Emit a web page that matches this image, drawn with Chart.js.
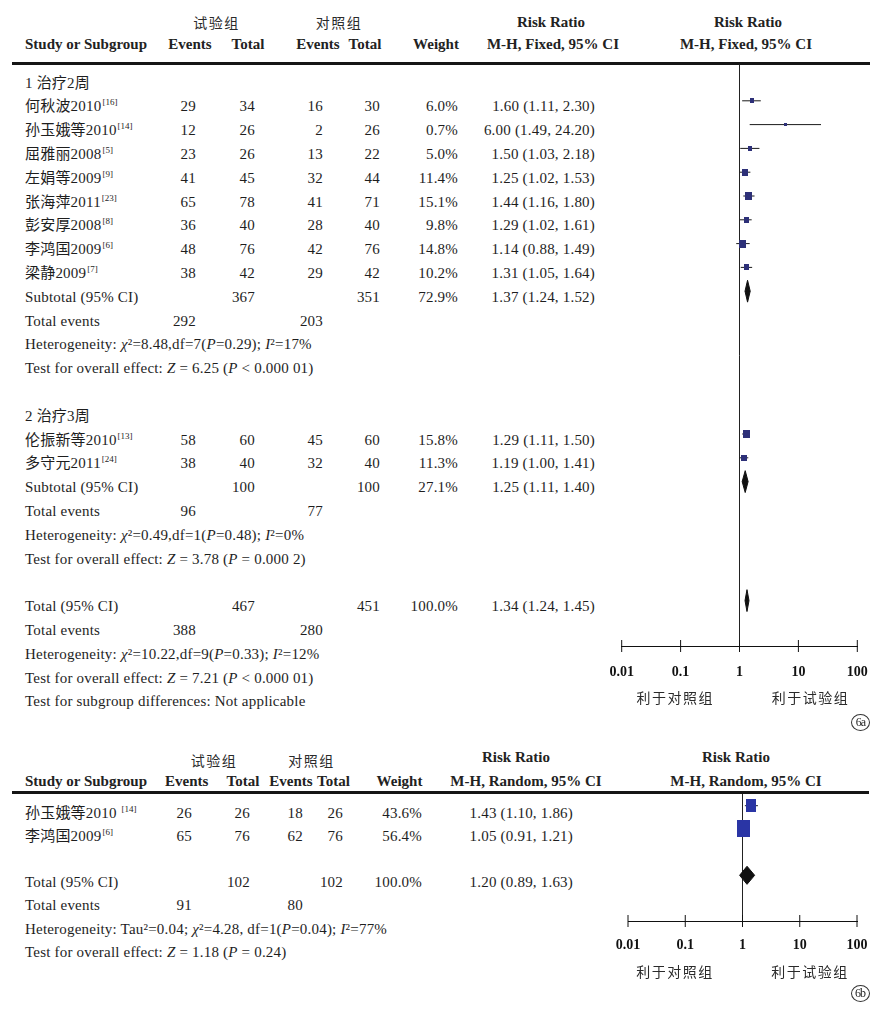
<!DOCTYPE html>
<html><head><meta charset="utf-8">
<script src="https://cdn.jsdelivr.net/npm/chart.js@4.4.1/dist/chart.umd.min.js"></script>
<style>
html,body{margin:0;padding:0;background:#fff;}
#page{position:relative;width:895px;height:1009px;overflow:hidden;background:#fff;}
.t{position:absolute;white-space:nowrap;line-height:20px;height:20px;font-family:'Liberation Serif','Noto Sans CJK SC',serif;font-size:15px;letter-spacing:0.2px;color:#1e1e1e;}
.b{font-weight:bold;color:#222;letter-spacing:0;}
.cjk{font-family:'Noto Sans CJK SC',sans-serif;font-size:14px;letter-spacing:1.5px;padding-left:1.5px;color:#2a2a2a;}
.ref{font-size:9px;position:relative;top:-6px;margin-left:1px;letter-spacing:0;}
.rule{position:absolute;height:3px;background:#151515;}
.circ{position:absolute;width:17px;height:15px;border:1px solid #333;border-radius:50%;font-family:'Liberation Serif',serif;font-size:12px;line-height:15px;text-align:center;letter-spacing:-1px;color:#222;}
canvas{position:absolute;}
</style></head>
<body><div id="page"></div>
<script>
// ================= DATA =================
// Axis
const tickVals = [0.01, 0.1, 1, 10, 100];
const tickLabels = ['0.01', '0.1', '1', '10', '100'];
const favourLabels = ['利于对照组', '利于试验组'];
const groupHeaders = ['试验组', '对照组'];

// Figure 6a, subgroup 1
const groupNameA1 = '1 治疗2周';
const studiesA1 = ['何秋波2010', '孙玉娥等2010', '屈雅丽2008', '左娟等2009', '张海萍2011', '彭安厚2008', '李鸿国2009', '梁静2009'];
const refsA1 = ['16', '14', '5', '9', '23', '8', '6', '7'];
const expEventsA1 = [29, 12, 23, 41, 65, 36, 48, 38];
const expTotalA1 = [34, 26, 26, 45, 78, 40, 76, 42];
const ctlEventsA1 = [16, 2, 13, 32, 41, 28, 42, 29];
const ctlTotalA1 = [30, 26, 22, 44, 71, 40, 76, 42];
const weightA1 = [6.0, 0.7, 5.0, 11.4, 15.1, 9.8, 14.8, 10.2];
const rrA1 = [1.60, 6.00, 1.50, 1.25, 1.44, 1.29, 1.14, 1.31];
const loA1 = [1.11, 1.49, 1.03, 1.02, 1.16, 1.02, 0.88, 1.05];
const hiA1 = [2.30, 24.20, 2.18, 1.53, 1.80, 1.61, 1.49, 1.64];
const subTotalsA1 = [367, 351];
const subWeightA1 = 72.9;
const subRRA1 = [1.37, 1.24, 1.52];
const totalEventsA1 = [292, 203];
const statsA1 = ['Heterogeneity: <i>χ</i>²=8.48,df=7(<i>P</i>=0.29); <i>I</i>²=17%',
                 'Test for overall effect: <i>Z</i> = 6.25 (<i>P</i> &lt; 0.000 01)'];

// Figure 6a, subgroup 2
const groupNameA2 = '2 治疗3周';
const studiesA2 = ['伦振新等2010', '多守元2011'];
const refsA2 = ['13', '24'];
const expEventsA2 = [58, 38];
const expTotalA2 = [60, 40];
const ctlEventsA2 = [45, 32];
const ctlTotalA2 = [60, 40];
const weightA2 = [15.8, 11.3];
const rrA2 = [1.29, 1.19];
const loA2 = [1.11, 1.00];
const hiA2 = [1.50, 1.41];
const subTotalsA2 = [100, 100];
const subWeightA2 = 27.1;
const subRRA2 = [1.25, 1.11, 1.40];
const totalEventsA2 = [96, 77];
const statsA2 = ['Heterogeneity: <i>χ</i>²=0.49,df=1(<i>P</i>=0.48); <i>I</i>²=0%',
                 'Test for overall effect: <i>Z</i> = 3.78 (<i>P</i> = 0.000 2)'];

// Figure 6a, overall
const totalsA = [467, 451];
const totalWeightA = 100.0;
const totalRRA = [1.34, 1.24, 1.45];
const totalEventsA = [388, 280];
const statsA = ['Heterogeneity: <i>χ</i>²=10.22,df=9(<i>P</i>=0.33); <i>I</i>²=12%',
                'Test for overall effect: <i>Z</i> = 7.21 (<i>P</i> &lt; 0.000 01)',
                'Test for subgroup differences: Not applicable'];

// Figure 6b
const studiesB = ['孙玉娥等2010', '李鸿国2009'];
const refsB = ['14', '6'];
const refGapB = [' ', ''];
const expEventsB = [26, 65];
const expTotalB = [26, 76];
const ctlEventsB = [18, 62];
const ctlTotalB = [26, 76];
const weightB = [43.6, 56.4];
const rrB = [1.43, 1.05];
const loB = [1.10, 0.91];
const hiB = [1.86, 1.21];
const totalsB = [102, 102];
const totalWeightB = 100.0;
const totalRRB = [1.20, 0.89, 1.63];
const totalEventsB = [91, 80];
const statsB = ['Heterogeneity: Tau²=0.04; <i>χ</i>²=4.28, df=1(<i>P</i>=0.04); <i>I</i>²=77%',
                'Test for overall effect: <i>Z</i> = 1.18 (<i>P</i> = 0.24)'];

// ================= LAYOUT HELPERS =================
const page = document.getElementById('page');
const LH = 20;
function put(html, x, y, align, cls) {
  const d = document.createElement('div');
  d.className = 't' + (cls ? ' ' + cls : '');
  d.innerHTML = html;
  d.style.top = (y - LH / 2) + 'px';
  if (align === 'right') { d.style.left = (x - 500) + 'px'; d.style.width = '500px'; d.style.textAlign = 'right'; }
  else if (align === 'center') { d.style.left = (x - 250) + 'px'; d.style.width = '500px'; d.style.textAlign = 'center'; }
  else d.style.left = x + 'px';
  page.appendChild(d);
}
function rule(x1, x2, yc) {
  const d = document.createElement('div');
  d.className = 'rule';
  d.style.left = x1 + 'px'; d.style.width = (x2 - x1) + 'px'; d.style.top = (yc - 1.5) + 'px';
  page.appendChild(d);
}
function circ(txt, cx, cy) {
  const d = document.createElement('div');
  d.className = 'circ'; d.textContent = txt;
  d.style.left = (cx - 9.5) + 'px'; d.style.top = (cy - 8.5) + 'px';
  page.appendChild(d);
}
const f2 = v => v.toFixed(2);
const rrText = (e, l, h) => `${f2(e)} (${f2(l)}, ${f2(h)})`;
const wText = w => w.toFixed(1) + '%';

function rectImg(w, h, color) {
  const c = document.createElement('canvas');
  c.width = w; c.height = h;
  const g = c.getContext('2d');
  g.fillStyle = color; g.fillRect(0, 0, w, h);
  return c;
}

// table writer
function makeTable(T) {
  const ty = r => T.textBase + T.step * r;
  const sq = [], dia = [];
  function study(r, name, ref, ee, et, ce, ct, w, rr, lo, hi, gap) {
    put(name + (gap || '') + '<span class="ref">[' + ref + ']</span>', T.nameX, ty(r));
    put(String(ee), T.cols.ee, ty(r), 'right');
    put(String(et), T.cols.et, ty(r), 'right');
    put(String(ce), T.cols.ce, ty(r), 'right');
    put(String(ct), T.cols.ct, ty(r), 'right');
    put(wText(w), T.cols.w, ty(r), 'right');
    put(rrText(rr, lo, hi), T.cols.rr, ty(r), 'right');
    sq.push({row: r, rr, lo, hi, w});
  }
  function summary(r, label, totals, w, rrArr) {
    put(label, T.nameX, ty(r));
    put(String(totals[0]), T.cols.et, ty(r), 'right');
    put(String(totals[1]), T.cols.ct, ty(r), 'right');
    put(wText(w), T.cols.w, ty(r), 'right');
    put(rrText(rrArr[0], rrArr[1], rrArr[2]), T.cols.rr, ty(r), 'right');
    dia.push({row: r, est: rrArr[0], lo: rrArr[1], hi: rrArr[2]});
  }
  function events(r, ev) {
    put('Total events', T.nameX, ty(r));
    put(String(ev[0]), T.cols.ee, ty(r), 'right');
    put(String(ev[1]), T.cols.ce, ty(r), 'right');
  }
  function line(r, html) { put(html, T.nameX, ty(r)); }
  return {study, summary, events, line, sq, dia};
}

// forest chart
function makeForest(o) {
  const cv = document.createElement('canvas');
  cv.width = o.cw; cv.height = o.ch;
  cv.style.left = o.cx + 'px'; cv.style.top = o.cy + 'px';
  page.appendChild(cv);
  const yMin = (o.area.top - o.markBase) / o.step;
  const yMax = (o.area.bottom - o.markBase) / o.step;
  const imgs = o.sq.map(s => {
    const w = Math.max(3, Math.round(o.sqW(s.w)));
    const h = Math.max(3, Math.round(o.sqH(s.w)));
    return rectImg(w, h, o.color);
  });
  const ds = [];
  o.sq.forEach(s => ds.push({type: 'line', order: 2, data: [{x: s.lo, y: s.row}, {x: s.hi, y: s.row}],
    borderColor: '#1a1a1a', borderWidth: 1, pointRadius: 0, fill: false, clip: false}));
  ds.push({type: 'line', order: 0, showLine: false, data: o.sq.map(s => ({x: s.rr, y: s.row})),
    pointStyle: ctx => imgs[ctx.dataIndex], pointRadius: 3, clip: false});
  o.dia.forEach(d => ds.push({type: 'line', order: 0,
    data: [{x: d.lo, y: d.row}, {x: d.est, y: d.row - o.dh}, {x: d.hi, y: d.row}, {x: d.est, y: d.row + o.dh}, {x: d.lo, y: d.row}],
    borderColor: '#111', backgroundColor: '#111', borderWidth: 1, pointRadius: 0, fill: 'shape', tension: 0, clip: false}));
  ds.push({type: 'line', order: 1, showLine: false, data: tickVals.map(v => ({x: v, y: yMax})),
    pointStyle: 'line', pointRotation: 90, pointRadius: 6, pointBorderColor: '#111', pointBorderWidth: 1, clip: false});
  const pad = {left: o.area.left - o.cx, right: o.cx + o.cw - o.area.right, top: o.area.top - o.cy, bottom: 20};
  const chart = new Chart(cv, {
    type: 'line',
    data: {datasets: ds},
    options: {
      responsive: false, maintainAspectRatio: false, animation: false, events: [],
      layout: {padding: pad},
      plugins: {legend: {display: false}, tooltip: {enabled: false}, title: {display: false}},
      scales: {
        x: {
          type: 'logarithmic', min: tickVals[0], max: tickVals[tickVals.length - 1],
          afterBuildTicks: ax => { ax.ticks = tickVals.map(v => ({value: v})); },
          ticks: {callback: (v, i) => tickLabels[i], autoSkip: false, maxRotation: 0, padding: o.tickPad,
            font: {family: 'Liberation Serif', size: 14, weight: 'bold'}, color: '#111'},
          grid: {drawTicks: false, lineWidth: 1,
            color: c => (c.tick && c.tick.value === 1) ? '#222' : 'rgba(0,0,0,0)'},
          border: {display: true, color: '#111', width: 1}
        },
        y: {type: 'linear', reverse: true, min: yMin, max: yMax, display: false}
      }
    }
  });
  // fine-fit the plotting area onto the target rectangle
  const ca = chart.chartArea;
  const np = {
    top: pad.top + (o.area.top - o.cy) - ca.top,
    bottom: pad.bottom + ca.bottom - (o.area.bottom - o.cy),
    left: pad.left + (o.area.left - o.cx) - ca.left,
    right: pad.right + ca.right - (o.area.right - o.cx)
  };
  chart.config.options.layout.padding = np;
  chart.update('none');
  return chart;
}

Chart.defaults.font.family = 'Liberation Serif';

// ================= FIGURE 6a =================
(function () {
  const hy1 = 21.7, hy2 = 44.3;
  put(groupHeaders[0], 215, hy1, 'center', 'cjk');
  put(groupHeaders[1], 337.5, hy1, 'center', 'cjk');
  put('Risk Ratio', 551, hy1, 'center', 'b');
  put('Risk Ratio', 748, hy1, 'center', 'b');
  put('Study or Subgroup', 25, hy2, 'left', 'b');
  put('Events', 190, hy2, 'center', 'b');
  put('Total', 248, hy2, 'center', 'b');
  put('Events', 318, hy2, 'center', 'b');
  put('Total', 365, hy2, 'center', 'b');
  put('Weight', 436, hy2, 'center', 'b');
  put('M-H, Fixed, 95% CI', 553, hy2, 'center', 'b');
  put('M-H, Fixed, 95% CI', 746, hy2, 'center', 'b');
  rule(12, 870, 63.3);

  const T = makeTable({textBase: 82.5, step: 23.8, nameX: 25,
    cols: {ee: 196, et: 255, ce: 323, ct: 380, w: 458, rr: 595}});
  let r = 0;
  T.line(r++, groupNameA1);
  studiesA1.forEach((s, i) => T.study(r++, s, refsA1[i], expEventsA1[i], expTotalA1[i], ctlEventsA1[i], ctlTotalA1[i], weightA1[i], rrA1[i], loA1[i], hiA1[i]));
  T.summary(r++, 'Subtotal (95% CI)', subTotalsA1, subWeightA1, subRRA1);
  T.events(r++, totalEventsA1);
  statsA1.forEach(s => T.line(r++, s));
  r++;
  T.line(r++, groupNameA2);
  studiesA2.forEach((s, i) => T.study(r++, s, refsA2[i], expEventsA2[i], expTotalA2[i], ctlEventsA2[i], ctlTotalA2[i], weightA2[i], rrA2[i], loA2[i], hiA2[i]));
  T.summary(r++, 'Subtotal (95% CI)', subTotalsA2, subWeightA2, subRRA2);
  T.events(r++, totalEventsA2);
  statsA2.forEach(s => T.line(r++, s));
  r++;
  T.summary(r++, 'Total (95% CI)', totalsA, totalWeightA, totalRRA);
  T.events(r++, totalEventsA);
  statsA.forEach(s => T.line(r++, s));

  makeForest({cx: 560, cy: 40, cw: 335, ch: 700,
    area: {left: 621.7, right: 857.3, top: 64.5, bottom: 646},
    markBase: 77, step: 23.8, sq: T.sq, dia: T.dia, color: '#2d3078',
    sqW: w => 2.6 + 0.27 * w, sqH: w => (2.6 + 0.27 * w) * 1.15, dh: 0.46, tickPad: 18});

  put(favourLabels[0], 673.8, 697.3, 'center', 'cjk');
  put(favourLabels[1], 809, 697.3, 'center', 'cjk');
  circ('6a', 860.5, 722.5);
})();

// ================= FIGURE 6b =================
(function () {
  const hy1 = 760, hy2 = 780.7;
  put(groupHeaders[0], 212.5, hy1, 'center', 'cjk');
  put(groupHeaders[1], 310, hy1, 'center', 'cjk');
  put('Risk Ratio', 516, 757, 'center', 'b');
  put('Risk Ratio', 736, 757, 'center', 'b');
  put('Study or Subgroup', 25, hy2, 'left', 'b');
  put('Events', 186.7, hy2, 'center', 'b');
  put('Total', 243, hy2, 'center', 'b');
  put('Events', 291, hy2, 'center', 'b');
  put('Total', 333.5, hy2, 'center', 'b');
  put('Weight', 399.5, hy2, 'center', 'b');
  put('M-H, Random, 95% CI', 526, hy2, 'center', 'b');
  put('M-H, Random, 95% CI', 746, hy2, 'center', 'b');
  rule(12, 869, 792.5);

  const T = makeTable({textBase: 812.5, step: 23.2, nameX: 25,
    cols: {ee: 192, et: 250, ce: 303, ct: 343, w: 422, rr: 573}});
  let r = 0;
  studiesB.forEach((s, i) => T.study(r++, s, refsB[i], expEventsB[i], expTotalB[i], ctlEventsB[i], ctlTotalB[i], weightB[i], rrB[i], loB[i], hiB[i], refGapB[i]));
  r++;
  T.summary(r++, 'Total (95% CI)', totalsB, totalWeightB, totalRRB);
  T.events(r++, totalEventsB);
  statsB.forEach(s => T.line(r++, s));

  makeForest({cx: 560, cy: 770, cw: 335, ch: 235,
    area: {left: 628, right: 857, top: 794, bottom: 921},
    markBase: 805.7, step: 23.2, sq: T.sq, dia: T.dia, color: '#2a35a5',
    sqW: w => 0.23 * w, sqH: w => 0.3 * w, dh: 0.39, tickPad: 16});

  put(favourLabels[0], 673.5, 970.7, 'center', 'cjk');
  put(favourLabels[1], 808.5, 970.7, 'center', 'cjk');
  circ('6b', 860, 993);
})();
</script></body></html>
